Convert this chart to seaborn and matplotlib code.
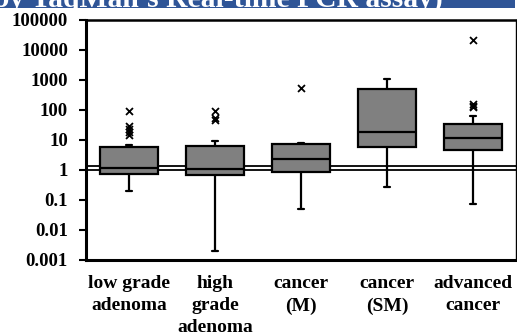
import numpy as np
import pandas as pd
import matplotlib
matplotlib.use("Agg")
import matplotlib.pyplot as plt
from matplotlib.patches import Rectangle
from matplotlib.ticker import FixedLocator, FuncFormatter, NullLocator
import seaborn as sns

categories = ["low grade\nadenoma", "high\ngrade\nadenoma", "cancer\n(M)", "cancer\n(SM)", "advanced\ncancer"]
whisker_low = [0.2, 0.002, 0.049, 0.28, 0.072]
q1 = [0.72, 0.68, 0.84, 5.7, 4.6]
median = [1.15, 1.1, 2.3, 19, 12]
q3 = [6.0, 6.5, 7.4, 516, 34]
whisker_high = [6.8, 9.5, 8.1, 1050, 65]
outliers = [
    [95, 29, 23, 19, 15],
    [90, 55, 48],
    [530],
    [],
    [21500, 160, 140, 125],
]
reference_lines = [1.0, 1.35]
yticks = [0.001, 0.01, 0.1, 1, 10, 100, 1000, 10000, 100000]
title_text = "by TaqMan's Real-time PCR assay)"

rows = []
for cat, lo, a, m, b, hi in zip(categories, whisker_low, q1, median, q3, whisker_high):
    for v in (lo, a, m, b, hi):
        rows.append({"group": cat, "value": v})
box_df = pd.DataFrame(rows)
fl_rows = []
for cat, fl in zip(categories, outliers):
    for v in fl:
        fl_rows.append({"group": cat, "value": v})
fl_df = pd.DataFrame(fl_rows)

sns.set_theme(style="white")
plt.rcParams["font.family"] = ["Liberation Serif", "DejaVu Serif"]
plt.rcParams["font.weight"] = "bold"

fig = plt.figure(figsize=(5.17, 3.35), dpi=100)
ax = fig.add_axes([86 / 517, 1 - 260 / 335, (516 - 86) / 517, 240 / 335])

for v in reference_lines:
    ax.axhline(v, color="black", lw=1.3, zorder=1)

sns.boxplot(data=box_df, x="group", y="value", order=categories, log_scale=True,
            whis=np.inf, width=0.67, color="#808080", linecolor="black", linewidth=1.6,
            fill=True, showfliers=False, capwidths=0.06, ax=ax,
            boxprops=dict(facecolor="#808080", edgecolor="black", zorder=2),
            medianprops=dict(color="black", linewidth=1.6, zorder=3),
            whiskerprops=dict(color="black", linewidth=1.6, zorder=1.5),
            capprops=dict(color="black", linewidth=1.6))
sns.stripplot(data=fl_df, x="group", y="value", order=categories, jitter=False,
              marker="x", color="black", s=5, linewidth=1.3, ax=ax, zorder=4)

ax.set_ylim(0.001, 100000)
ax.set_xlim(-0.5, 4.5)
ax.yaxis.set_major_locator(FixedLocator(yticks))
ax.yaxis.set_minor_locator(NullLocator())
ax.yaxis.set_major_formatter(FuncFormatter(lambda v, p: f"{v:g}"))
ax.set_xlabel("")
ax.set_ylabel("")
ax.tick_params(axis="y", which="major", left=True, length=5, width=1.5, direction="out",
               labelsize=13.5, pad=8, colors="black")
ax.tick_params(axis="x", bottom=False, labelsize=14, pad=5, colors="black")
for lab in ax.get_xticklabels() + ax.get_yticklabels():
    lab.set_fontweight("bold")
for lab in ax.get_xticklabels():
    lab.set_linespacing(1.38)
ax.spines["left"].set_linewidth(2.2)
ax.spines["bottom"].set_linewidth(2.2)
ax.spines["top"].set_linewidth(1.8)
ax.spines["right"].set_linewidth(1.0)
for s in ax.spines.values():
    s.set_color("black")

fig.patches.append(Rectangle((0, 1 - 7.7 / 335), 515 / 517, 7.7 / 335,
                             transform=fig.transFigure, facecolor="#2F5597",
                             edgecolor="none", zorder=0))
fig.text(443 / 517, 1 - 6.5 / 335, title_text, color="white", fontsize=21.3,
         fontweight="bold", ha="right", va="baseline")

fig.savefig("out.png", dpi=100)
